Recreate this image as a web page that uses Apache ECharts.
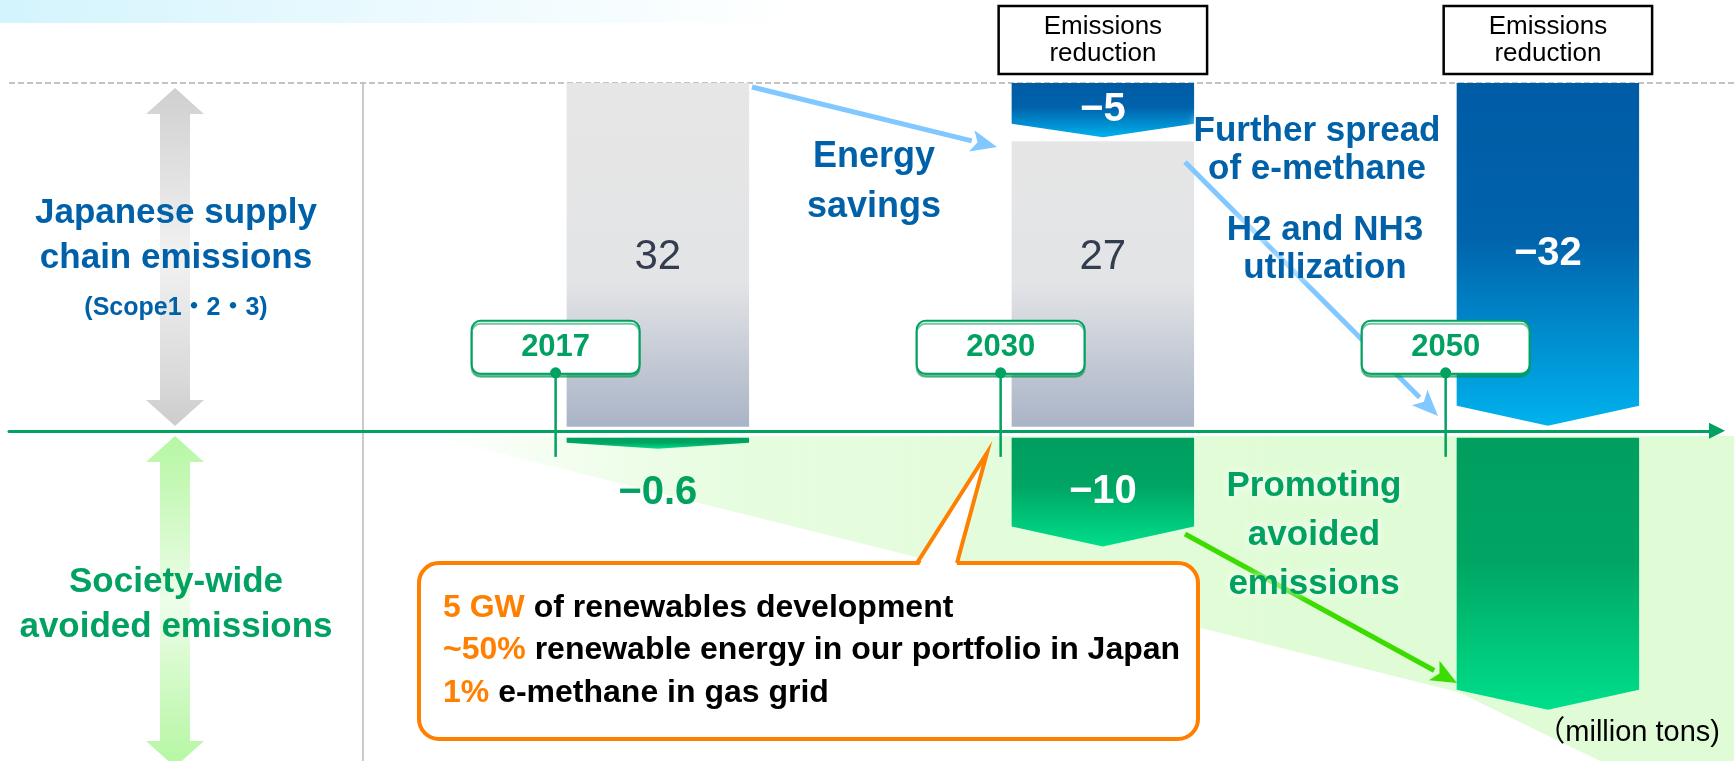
<!DOCTYPE html>
<html>
<head>
<meta charset="utf-8">
<script src="https://cdn.jsdelivr.net/npm/echarts@6/dist/echarts.min.js"></script>
<style>
html, body { margin: 0; padding: 0; background: #fff; }
#chart { width: 1734px; height: 761px; }
</style>
</head>
<body>
<div id="chart"></div>
<script>
// ---- data (million tons) ----
const years = ['2017', '2030', '2050']
const remaining = [32, 27, 0]        // Japanese supply chain emissions left
const reduction = [0, -5, -32]       // emissions reduction
const avoided = [-0.6, -10, -25]     // society-wide avoided emissions (2050 figure not printed)
const avoidedPrinted = [true, true, false]

const FONT = '"Liberation Sans", Arial, "Noto Sans CJK JP", sans-serif'
const BLUE = '#0061a9'
const GREEN = '#00a161'
const ORANGE = '#ff7f00'
const ARROW_BLUE = '#80c8ff'
const ARROW_GREEN = '#3cdc00'

let myChart = echarts.init(document.getElementById('chart'))

const fmt = v => '−' + Math.abs(v)
const tipOf = total => total < 20 ? total * 0.55 : Math.min(20, total * 0.25)
const topValue = Math.max(...remaining.map((v, i) => v - reduction[i]))

function chevron(x0, x1, yTop, yBot, tip) {
    return [[x0, yTop], [x1, yTop], [x1, yBot - tip], [(x0 + x1) / 2, yBot], [x0, yBot - tip]]
}

function barWidth(api) {
    return api.size([1, 0])[0] * 0.41
}

// 灰色：剩余排放
function renderRemaining(params, api) {
    const i = api.value(0), v = api.value(1), r = api.value(2)
    if (!v) return null
    const w = barWidth(api)
    const base = api.coord([i, 0])
    let top = api.coord([i, v])[1]
    if (r < 0) top += 4
    const bottom = base[1] - 4
    const gTop = api.coord([i, topValue])[1]
    const midY = api.coord([i, topValue / 2])[1]
    return {
        type: 'group',
        children: [
            {
                type: 'rect',
                shape: { x: base[0] - w / 2, y: top, width: w, height: bottom - top },
                style: {
                    fill: new echarts.graphic.LinearGradient(0, gTop, 0, bottom, [
                        { offset: 0, color: '#e6e6e6' },
                        { offset: 0.58, color: '#e3e4e6' },
                        { offset: 1, color: '#a9b4c6' }
                    ], true)
                }
            },
            {
                type: 'text',
                style: {
                    text: String(v), x: base[0], y: midY, align: 'center', verticalAlign: 'middle',
                    font: 'normal 42px ' + FONT, fill: '#343d4f'
                }
            }
        ]
    }
}

// 蓝色：减排
function renderReduction(params, api) {
    const i = api.value(0), base = api.value(1), r = api.value(2)
    if (!r) return null
    const w = barWidth(api)
    const cx = api.coord([i, 0])[0]
    const yTop = api.coord([i, base - r])[1]
    let yBot = api.coord([i, base])[1]
    if (!base) yBot -= 5
    const tip = tipOf(yBot - yTop)
    return {
        type: 'group',
        children: [
            {
                type: 'polygon',
                shape: { points: chevron(cx - w / 2, cx + w / 2, yTop, yBot, tip) },
                style: {
                    fill: new echarts.graphic.LinearGradient(0, 0, 0, 1, [
                        { offset: 0, color: '#005ba5' },
                        { offset: 0.45, color: '#0063ab' },
                        { offset: 1, color: '#00b2ee' }
                    ])
                }
            },
            {
                type: 'text',
                style: {
                    text: fmt(r), x: cx, y: (yTop + yBot) / 2, align: 'center', verticalAlign: 'middle',
                    font: 'bold 40px ' + FONT, fill: '#fff'
                }
            },
            {
                type: 'rect',
                shape: { x: cx - w / 2 - 13, y: yTop - 77, width: w + 26, height: 68 },
                style: { fill: '#fff', stroke: '#000', lineWidth: 2.5 }
            },
            {
                type: 'text',
                style: {
                    text: 'Emissions\nreduction', x: cx, y: yTop - 43, align: 'center', verticalAlign: 'middle',
                    font: 'normal 26px ' + FONT, lineHeight: 27, fill: '#000'
                }
            }
        ]
    }
}

// 绿色：社会减排贡献
function renderAvoided(params, api) {
    const i = api.value(0), v = api.value(1), printed = api.value(2)
    const w = barWidth(api)
    const c = api.coord([i, 0])
    const y0 = c[1] + 7
    const total = Math.max(11, api.coord([i, v])[1] - c[1])
    const yBot = y0 + total
    const tip = tipOf(total)
    const children = [{
        type: 'polygon',
        shape: { points: chevron(c[0] - w / 2, c[0] + w / 2, y0, yBot, tip) },
        style: {
            fill: new echarts.graphic.LinearGradient(0, 0, 0, 1, [
                { offset: 0, color: '#009e5f' },
                { offset: 0.45, color: '#00a563' },
                { offset: 1, color: '#00df8b' }
            ])
        }
    }]
    if (printed) {
        const inside = total > 40
        children.push({
            type: 'text',
            style: {
                text: fmt(v), x: c[0], y: inside ? (y0 + yBot) / 2 : yBot + 44,
                align: 'center', verticalAlign: 'middle',
                font: 'bold 40px ' + FONT, fill: inside ? '#fff' : GREEN
            }
        })
    }
    return { type: 'group', children }
}

// 年份标记
function renderMarker(params, api) {
    const i = api.value(0)
    const w = barWidth(api)
    const c = api.coord([i, 0])
    const mx = c[0] - w / 2 - 11
    const y0 = c[1]
    return {
        type: 'group',
        children: [
            { type: 'line', shape: { x1: mx, y1: y0 - 58, x2: mx, y2: y0 + 26 }, style: { stroke: GREEN, lineWidth: 2.5 } },
            {
                type: 'rect',
                shape: { x: mx - 84, y: y0 - 110, width: 168, height: 53, r: 9 },
                style: { fill: '#fff', stroke: GREEN, lineWidth: 2, shadowColor: 'rgba(0,150,80,0.55)', shadowOffsetY: 3 }
            },
            {
                type: 'text',
                style: {
                    text: years[params.dataIndex], x: mx, y: y0 - 83, align: 'center', verticalAlign: 'middle',
                    font: 'bold 31px ' + FONT, fill: GREEN
                }
            },
            { type: 'circle', shape: { cx: mx, cy: y0 - 58, r: 5.5 }, style: { fill: GREEN } }
        ]
    }
}

function arrowEls(x1, y1, x2, y2, color, z) {
    const ang = Math.atan2(y2 - y1, x2 - x1)
    const hl = 26, hw = 11
    const bx = x2 - hl * Math.cos(ang), by = y2 - hl * Math.sin(ang)
    const nx = -Math.sin(ang), ny = Math.cos(ang)
    return [
        { type: 'line', z, shape: { x1, y1, x2: bx, y2: by }, style: { stroke: color, lineWidth: 5 } },
        {
            type: 'polygon', z,
            shape: { points: [[x2, y2], [bx + nx * hw, by + ny * hw], [bx + 6 * Math.cos(ang), by + 6 * Math.sin(ang)], [bx - nx * hw, by - ny * hw]] },
            style: { fill: color }
        }
    ]
}

function doubleArrow(cx, yTop, yBot, stops) {
    const hh = 26, hw = 29, sw = 15
    return {
        type: 'polygon', z: 0,
        shape: {
            points: [[cx, yTop], [cx + hw, yTop + hh], [cx + sw, yTop + hh], [cx + sw, yBot - hh], [cx + hw, yBot - hh],
                [cx, yBot], [cx - hw, yBot - hh], [cx - sw, yBot - hh], [cx - sw, yTop + hh], [cx - hw, yTop + hh]]
        },
        style: { fill: new echarts.graphic.LinearGradient(0, 0, 0, 1, stops) }
    }
}

function label(text, x, y, color, size, lh, glow) {
    return {
        type: 'text', z: 10,
        style: {
            text, x, y, align: 'center', verticalAlign: 'middle',
            font: 'bold ' + size + 'px ' + FONT, lineHeight: lh, fill: color,
            textShadowColor: glow ? '#ffffff' : 'transparent', textShadowBlur: glow ? 10 : 0
        }
    }
}

const calloutRich = {
    o: { fill: ORANGE, fontSize: 32, fontWeight: 'bold', fontFamily: FONT },
    k: { fill: '#000', fontSize: 32, fontWeight: 'bold', fontFamily: FONT }
}

let graphics = [
    // 顶部浅色条
    {
        type: 'rect', z: 0, shape: { x: 0, y: 0, width: 800, height: 23 },
        style: { fill: new echarts.graphic.LinearGradient(0, 0, 1, 0, [
            { offset: 0, color: '#d3f4fd' }, { offset: 0.5, color: '#ebfafe' }, { offset: 1, color: '#ffffff' }]) }
    },
    // 浅绿色区域
    {
        type: 'polygon', z: 0,
        shape: { points: [[430, 436], [1734, 436], [1734, 761], [1600, 761], [1458, 692]] },
        style: { fill: new echarts.graphic.LinearGradient(430, 0, 1300, 0, [
            { offset: 0, color: 'rgba(222,252,212,0)' },
            { offset: 0.35, color: 'rgba(226,252,218,0.85)' },
            { offset: 1, color: '#e0fcd6' }], true) }
    },
    { type: 'line', z: 0, shape: { x1: 9, y1: 83, x2: 1734, y2: 83 }, style: { stroke: '#b0b0b0', lineWidth: 1.5, lineDash: [6, 3] } },
    { type: 'line', z: 0, shape: { x1: 363, y1: 83, x2: 363, y2: 761 }, style: { stroke: '#b8b8b8', lineWidth: 1.5 } },
    doubleArrow(175, 88, 426, [
        { offset: 0, color: '#cfcfd0' }, { offset: 0.12, color: '#d8d8d8' }, { offset: 0.5, color: '#f2f2f2' },
        { offset: 0.88, color: '#d8d8d8' }, { offset: 1, color: '#cccccc' }]),
    doubleArrow(175, 436, 767, [
        { offset: 0, color: '#b6f7a4' }, { offset: 0.12, color: '#c2f8b2' }, { offset: 0.5, color: '#eefdea' },
        { offset: 0.88, color: '#c2f8b2' }, { offset: 1, color: '#b5f7a3' }]),
    ...arrowEls(752, 87, 997, 147, ARROW_BLUE, 3),
    ...arrowEls(1185, 162, 1438, 416, ARROW_BLUE, 3),
    ...arrowEls(1185, 534, 1457, 683, ARROW_GREEN, 3),
    // 橙色说明框
    {
        type: 'rect', z: 6, shape: { x: 419, y: 563, width: 779, height: 176, r: 20 },
        style: { fill: '#fff', stroke: ORANGE, lineWidth: 4 }
    },
    { type: 'polygon', z: 6, shape: { points: [[918, 567], [987, 453], [956, 567]] }, style: { fill: '#fff' } },
    { type: 'polyline', z: 6, shape: { points: [[917, 563], [987, 453], [957, 563]] }, style: { stroke: ORANGE, lineWidth: 4, fill: null } },
    { type: 'text', z: 7, style: { x: 443, y: 608, verticalAlign: 'middle', text: '{o|5 GW}{k| of renewables development}', rich: calloutRich } },
    { type: 'text', z: 7, style: { x: 443, y: 650, verticalAlign: 'middle', text: '{o|~50%}{k| renewable energy in our portfolio in Japan}', rich: calloutRich } },
    { type: 'text', z: 7, style: { x: 443, y: 693, verticalAlign: 'middle', text: '{o|1%}{k| e-methane in gas grid}', rich: calloutRich } },
    // 文字
    label('Japanese supply\nchain emissions', 176, 236, BLUE, 35, 45, false),
    label('(Scope1・2・3)', 176, 308, BLUE, 25, 28, false),
    label('Society-wide\navoided emissions', 176, 605, GREEN, 35, 45, false),
    label('Energy\nsavings', 874, 182, BLUE, 36, 50, true),
    label('Further spread\nof e-methane', 1317, 150, BLUE, 35, 38, true),
    label('H2 and NH3\nutilization', 1325, 249, BLUE, 35, 38, true),
    label('Promoting\navoided\nemissions', 1314, 535, GREEN, 35, 49, true),
    {
        type: 'text', z: 10,
        style: { text: '（million tons)', x: 1720, y: 733, align: 'right', verticalAlign: 'middle', font: 'normal 29px ' + FONT, fill: '#000' }
    }
]

let option = {
    animation: false,
    grid: { left: 9, right: 17, top: 83, bottom: 4 },
    xAxis: {
        type: 'value', min: -1.458, max: 2.38,
        axisLine: { show: true, onZero: true, symbol: ['none', 'triangle'], symbolSize: [16, 16], lineStyle: { color: GREEN, width: 3 } },
        axisTick: { show: false }, axisLabel: { show: false }, splitLine: { show: false }
    },
    yAxis: { type: 'value', min: -30, max: 32, show: false },
    graphic: { elements: graphics },
    series: [
        { type: 'custom', name: 'remaining', z: 2, renderItem: renderRemaining, data: years.map((y, i) => [i, remaining[i], reduction[i]]) },
        { type: 'custom', name: 'reduction', z: 2, renderItem: renderReduction, data: years.map((y, i) => [i, remaining[i], reduction[i]]) },
        { type: 'custom', name: 'avoided', z: 2, renderItem: renderAvoided, data: years.map((y, i) => [i, avoided[i], avoidedPrinted[i] ? 1 : 0]) },
        { type: 'custom', name: 'years', z: 5, renderItem: renderMarker, data: years.map((y, i) => [i]) }
    ]
}

myChart.setOption(option)
</script>
</body>
</html>
